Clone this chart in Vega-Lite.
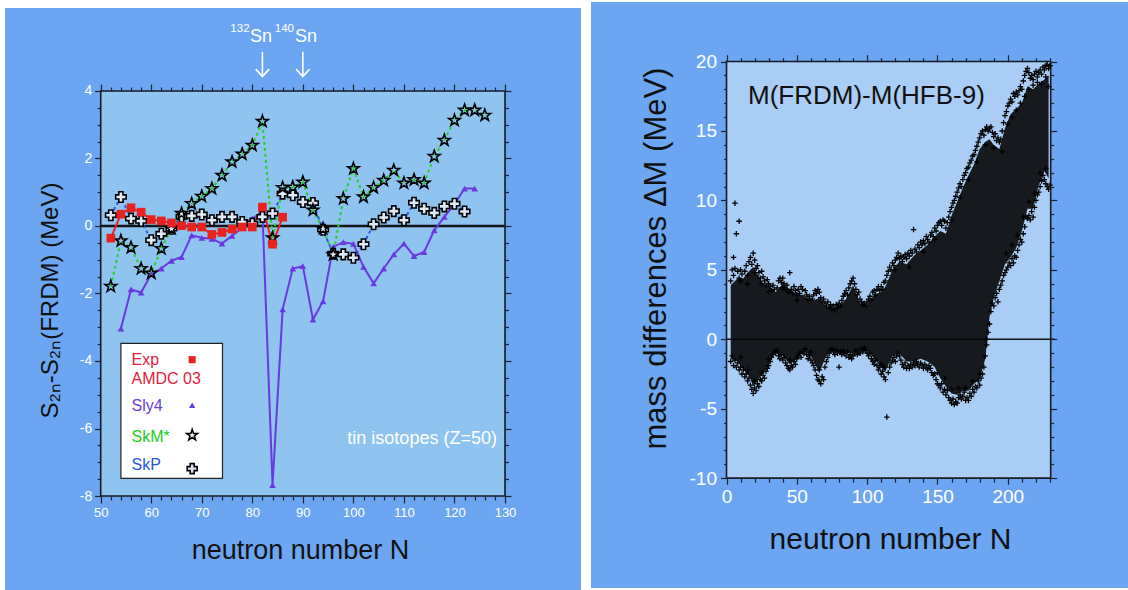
{
"$schema":"https://vega.github.io/schema/vega-lite/v6.json",
"width":1128,"height":590,
"autosize":{"type":"fit","contains":"padding"},
"padding":0,
"background":"#ffffff",
"config":{"font":"Liberation Sans","view":{"stroke":null},
 "axis":{"zindex":1,"domain":false,"grid":false,"labelColor":"#ffffff","tickColor":"#1c2335","tickWidth":1.2,"titleFontWeight":"normal","titleColor":"#111111","labelFontWeight":"normal"}},
"datasets":{
"sn":[
{"N":52,"v":-0.36,"s":"Exp"},{"N":54,"v":0.35,"s":"Exp"},{"N":56,"v":0.54,"s":"Exp"},{"N":58,"v":0.41,"s":"Exp"},{"N":60,"v":0.19,"s":"Exp"},{"N":62,"v":0.15,"s":"Exp"},{"N":64,"v":0.09,"s":"Exp"},{"N":66,"v":0.01,"s":"Exp"},{"N":68,"v":-0.03,"s":"Exp"},{"N":70,"v":-0.03,"s":"Exp"},{"N":72,"v":-0.25,"s":"Exp"},{"N":74,"v":-0.19,"s":"Exp"},{"N":76,"v":-0.09,"s":"Exp"},{"N":78,"v":-0.03,"s":"Exp"},{"N":80,"v":-0.03,"s":"Exp"},{"N":82,"v":0.56,"s":"Exp"},{"N":84,"v":-0.54,"s":"Exp"},{"N":86,"v":0.26,"s":"Exp"},
{"N":54,"v":-3.04,"s":"Sly4"},{"N":56,"v":-1.88,"s":"Sly4"},{"N":58,"v":-1.97,"s":"Sly4"},{"N":60,"v":-1.42,"s":"Sly4"},{"N":62,"v":-1.26,"s":"Sly4"},{"N":64,"v":-1.03,"s":"Sly4"},{"N":66,"v":-0.92,"s":"Sly4"},{"N":68,"v":-0.28,"s":"Sly4"},{"N":70,"v":-0.35,"s":"Sly4"},{"N":72,"v":-0.38,"s":"Sly4"},{"N":74,"v":-0.52,"s":"Sly4"},{"N":76,"v":-0.29,"s":"Sly4"},{"N":78,"v":-0.05,"s":"Sly4"},{"N":80,"v":0.22,"s":"Sly4"},{"N":82,"v":0.42,"s":"Sly4"},{"N":84,"v":-7.68,"s":"Sly4"},{"N":86,"v":-2.47,"s":"Sly4"},{"N":88,"v":-1.26,"s":"Sly4"},{"N":90,"v":-1.19,"s":"Sly4"},{"N":92,"v":-2.77,"s":"Sly4"},{"N":94,"v":-2.23,"s":"Sly4"},{"N":96,"v":-0.62,"s":"Sly4"},{"N":98,"v":-0.48,"s":"Sly4"},{"N":100,"v":-0.53,"s":"Sly4"},{"N":102,"v":-1.21,"s":"Sly4"},{"N":104,"v":-1.7,"s":"Sly4"},{"N":106,"v":-1.26,"s":"Sly4"},{"N":108,"v":-0.84,"s":"Sly4"},{"N":110,"v":-0.52,"s":"Sly4"},{"N":112,"v":-0.89,"s":"Sly4"},{"N":114,"v":-0.77,"s":"Sly4"},{"N":116,"v":-0.13,"s":"Sly4"},{"N":118,"v":0.27,"s":"Sly4"},{"N":120,"v":0.65,"s":"Sly4"},{"N":122,"v":1.11,"s":"Sly4"},{"N":124,"v":1.11,"s":"Sly4"},
{"N":52,"v":-1.79,"s":"SkM*"},{"N":54,"v":-0.44,"s":"SkM*"},{"N":56,"v":-0.64,"s":"SkM*"},{"N":58,"v":-1.26,"s":"SkM*"},{"N":60,"v":-1.4,"s":"SkM*"},{"N":62,"v":-0.67,"s":"SkM*"},{"N":64,"v":-0.08,"s":"SkM*"},{"N":66,"v":0.37,"s":"SkM*"},{"N":68,"v":0.66,"s":"SkM*"},{"N":70,"v":0.88,"s":"SkM*"},{"N":72,"v":1.11,"s":"SkM*"},{"N":74,"v":1.5,"s":"SkM*"},{"N":76,"v":1.9,"s":"SkM*"},{"N":78,"v":2.13,"s":"SkM*"},{"N":80,"v":2.39,"s":"SkM*"},{"N":82,"v":3.1,"s":"SkM*"},{"N":84,"v":-0.35,"s":"SkM*"},{"N":86,"v":1.14,"s":"SkM*"},{"N":88,"v":1.15,"s":"SkM*"},{"N":90,"v":1.3,"s":"SkM*"},{"N":92,"v":0.47,"s":"SkM*"},{"N":94,"v":-0.08,"s":"SkM*"},{"N":96,"v":-0.85,"s":"SkM*"},{"N":98,"v":0.81,"s":"SkM*"},{"N":100,"v":1.7,"s":"SkM*"},{"N":102,"v":0.86,"s":"SkM*"},{"N":104,"v":1.14,"s":"SkM*"},{"N":106,"v":1.35,"s":"SkM*"},{"N":108,"v":1.65,"s":"SkM*"},{"N":110,"v":1.27,"s":"SkM*"},{"N":112,"v":1.37,"s":"SkM*"},{"N":114,"v":1.27,"s":"SkM*"},{"N":116,"v":2.06,"s":"SkM*"},{"N":118,"v":2.54,"s":"SkM*"},{"N":120,"v":3.13,"s":"SkM*"},{"N":122,"v":3.43,"s":"SkM*"},{"N":124,"v":3.43,"s":"SkM*"},{"N":126,"v":3.28,"s":"SkM*"},
{"N":52,"v":0.32,"s":"SkP"},{"N":54,"v":0.86,"s":"SkP"},{"N":56,"v":0.22,"s":"SkP"},{"N":58,"v":0.15,"s":"SkP"},{"N":60,"v":-0.42,"s":"SkP"},{"N":62,"v":-0.23,"s":"SkP"},{"N":64,"v":-0.08,"s":"SkP"},{"N":66,"v":0.27,"s":"SkP"},{"N":68,"v":0.3,"s":"SkP"},{"N":70,"v":0.34,"s":"SkP"},{"N":72,"v":0.17,"s":"SkP"},{"N":74,"v":0.27,"s":"SkP"},{"N":76,"v":0.27,"s":"SkP"},{"N":78,"v":0.12,"s":"SkP"},{"N":80,"v":0.07,"s":"SkP"},{"N":82,"v":0.27,"s":"SkP"},{"N":84,"v":0.37,"s":"SkP"},{"N":86,"v":0.96,"s":"SkP"},{"N":88,"v":0.91,"s":"SkP"},{"N":90,"v":0.71,"s":"SkP"},{"N":92,"v":0.68,"s":"SkP"},{"N":94,"v":-0.11,"s":"SkP"},{"N":96,"v":-0.82,"s":"SkP"},{"N":98,"v":-0.84,"s":"SkP"},{"N":100,"v":-0.94,"s":"SkP"},{"N":102,"v":-0.54,"s":"SkP"},{"N":104,"v":0.05,"s":"SkP"},{"N":106,"v":0.25,"s":"SkP"},{"N":108,"v":0.44,"s":"SkP"},{"N":110,"v":0.17,"s":"SkP"},{"N":112,"v":0.69,"s":"SkP"},{"N":114,"v":0.51,"s":"SkP"},{"N":116,"v":0.39,"s":"SkP"},{"N":118,"v":0.58,"s":"SkP"},{"N":120,"v":0.66,"s":"SkP"},{"N":122,"v":0.43,"s":"SkP"}
],
"env":[
{"n":3,"lo":-1.4,"hi":3.9},{"n":8,"lo":-1.6,"hi":4.4},{"n":12,"lo":-2.2,"hi":4.4},{"n":16,"lo":-2.6,"hi":4.9},{"n":19,"lo":-3.4,"hi":5.2},{"n":22,"lo":-3.0,"hi":4.7},{"n":26,"lo":-2.4,"hi":4.0},{"n":30,"lo":-1.8,"hi":3.8},{"n":35,"lo":-0.9,"hi":3.4},{"n":40,"lo":-1.2,"hi":4.0},{"n":45,"lo":-1.8,"hi":3.6},{"n":50,"lo":-1.4,"hi":3.2},{"n":55,"lo":-0.8,"hi":3.2},{"n":60,"lo":-1.2,"hi":2.7},{"n":66,"lo":-2.4,"hi":3.0},{"n":70,"lo":-1.4,"hi":2.4},{"n":74,"lo":-0.7,"hi":2.2},{"n":80,"lo":-1.0,"hi":2.4},{"n":85,"lo":-1.0,"hi":2.9},{"n":90,"lo":-1.0,"hi":3.9},{"n":95,"lo":-0.8,"hi":2.6},{"n":100,"lo":-0.8,"hi":2.5},{"n":105,"lo":-1.4,"hi":3.2},{"n":110,"lo":-2.0,"hi":3.4},{"n":113,"lo":-2.3,"hi":3.8},{"n":118,"lo":-1.2,"hi":5.0},{"n":123,"lo":-1.0,"hi":5.6},{"n":128,"lo":-1.6,"hi":5.4},{"n":133,"lo":-1.6,"hi":6.0},{"n":138,"lo":-1.4,"hi":6.4},{"n":143,"lo":-1.6,"hi":6.8},{"n":148,"lo":-2.0,"hi":7.4},{"n":152,"lo":-2.8,"hi":7.8},{"n":156,"lo":-3.4,"hi":7.6},{"n":160,"lo":-3.9,"hi":8.9},{"n":164,"lo":-4.0,"hi":9.9},{"n":168,"lo":-3.7,"hi":10.9},{"n":172,"lo":-3.7,"hi":11.8},{"n":176,"lo":-3.2,"hi":12.6},{"n":180,"lo":-2.9,"hi":13.7},{"n":184,"lo":-1.4,"hi":14.2},{"n":187,"lo":1.6,"hi":14.4},{"n":190,"lo":3.0,"hi":14.0},{"n":194,"lo":4.2,"hi":13.7},{"n":198,"lo":5.4,"hi":15.2},{"n":202,"lo":5.9,"hi":16.2},{"n":206,"lo":6.6,"hi":16.6},{"n":210,"lo":7.8,"hi":17.0},{"n":214,"lo":9.4,"hi":18.2},{"n":218,"lo":9.4,"hi":18.0},{"n":222,"lo":11.1,"hi":18.4},{"n":226,"lo":12.1,"hi":18.7},{"n":229,"lo":11.6,"hi":19.0}
],
"pts":[
{"n":6,"m":9.8},{"n":9,"m":8.5},{"n":7,"m":7.6},{"n":5,"m":5.9},{"n":45,"m":4.8},{"n":133,"m":7.9},{"n":114,"m":-5.6},{"n":80,"m":-2.0},{"n":67,"m":-3.2},{"n":69,"m":-2.9},
{"n":3,"m":4.2},{"n":4,"m":5.0},{"n":5,"m":4.6},{"n":6,"m":5.1},{"n":8,"m":4.9},{"n":9,"m":4.4},{"n":10,"m":5.0},{"n":11,"m":4.7},{"n":13,"m":4.9},{"n":14,"m":5.3},{"n":15,"m":4.6},{"n":16,"m":5.6},{"n":17,"m":5.9},{"n":18,"m":5.4},{"n":19,"m":6.2},{"n":20,"m":5.7},{"n":21,"m":5.1},{"n":22,"m":5.3},{"n":23,"m":4.8},{"n":24,"m":4.4},{"n":25,"m":4.9},{"n":26,"m":4.5},{"n":27,"m":4.2},{"n":28,"m":3.9},{"n":29,"m":4.3},{"n":30,"m":4.0},{"n":31,"m":3.8},{"n":32,"m":3.5},{"n":33,"m":3.9},{"n":34,"m":3.6},{"n":36,"m":3.7},{"n":37,"m":4.2},{"n":38,"m":4.4},{"n":39,"m":4.1},{"n":40,"m":4.4},{"n":41,"m":4.0},{"n":42,"m":3.6},{"n":43,"m":3.9},{"n":44,"m":3.4},{"n":46,"m":3.6},{"n":47,"m":3.3},{"n":48,"m":3.8},{"n":49,"m":3.5},{"n":50,"m":3.2},{"n":51,"m":3.6},{"n":52,"m":3.3},{"n":53,"m":3.8},{"n":54,"m":3.6},{"n":56,"m":3.5},{"n":57,"m":3.2},{"n":58,"m":2.9},{"n":59,"m":3.1},{"n":60,"m":2.8},
{"n":3,"m":-1.6},{"n":4,"m":-1.2},{"n":5,"m":-1.9},{"n":6,"m":-1.5},{"n":7,"m":-2.0},{"n":8,"m":-1.7},{"n":9,"m":-2.2},{"n":10,"m":-2.0},{"n":11,"m":-2.5},{"n":12,"m":-2.2},{"n":13,"m":-2.7},{"n":14,"m":-2.5},{"n":15,"m":-3.0},{"n":16,"m":-2.8},{"n":17,"m":-3.3},{"n":18,"m":-3.6},{"n":19,"m":-3.9},{"n":20,"m":-3.5},{"n":21,"m":-3.7},{"n":22,"m":-3.2},{"n":23,"m":-3.4},{"n":24,"m":-2.9},{"n":25,"m":-3.0},{"n":26,"m":-2.6},{"n":27,"m":-2.8},{"n":28,"m":-2.3},{"n":29,"m":-2.1},{"n":30,"m":-1.9},{"n":31,"m":-1.6},{"n":32,"m":-1.3},{"n":33,"m":-1.1},{"n":34,"m":-0.9},{"n":35,"m":-1.0},{"n":36,"m":-0.8},{"n":37,"m":-1.2},{"n":38,"m":-1.4},{"n":39,"m":-1.1},{"n":40,"m":-1.5},{"n":41,"m":-1.3},{"n":42,"m":-1.7},{"n":43,"m":-1.9},{"n":44,"m":-2.1},{"n":45,"m":-2.2},{"n":46,"m":-1.9},{"n":47,"m":-2.0},{"n":48,"m":-1.6},{"n":49,"m":-1.8},{"n":50,"m":-1.4},{"n":51,"m":-1.2},{"n":52,"m":-1.0},{"n":53,"m":-1.3},{"n":54,"m":-0.9},{"n":55,"m":-1.0},{"n":56,"m":-0.7},{"n":57,"m":-1.1},{"n":58,"m":-1.4},{"n":59,"m":-1.2},{"n":60,"m":-1.5},
{"n":61,"m":2.9},{"n":62,"m":3.2},{"n":63,"m":3.5},{"n":64,"m":3.3},{"n":65,"m":3.6},{"n":66,"m":3.4},{"n":67,"m":3.0},{"n":68,"m":2.7},{"n":69,"m":2.9},{"n":70,"m":2.6},{"n":71,"m":2.4},{"n":72,"m":2.7},{"n":73,"m":2.3},{"n":74,"m":2.5},{"n":75,"m":2.2},{"n":76,"m":2.4},{"n":77,"m":2.1},{"n":78,"m":2.5},{"n":79,"m":2.3},{"n":80,"m":2.6},{"n":81,"m":2.4},{"n":82,"m":2.8},{"n":83,"m":3.1},{"n":84,"m":3.3},{"n":85,"m":3.5},{"n":86,"m":3.2},{"n":87,"m":3.7},{"n":88,"m":4.0},{"n":89,"m":4.2},{"n":90,"m":4.4},{"n":91,"m":4.0},{"n":92,"m":3.6},{"n":93,"m":3.2},{"n":94,"m":3.4},{"n":95,"m":2.9},{"n":96,"m":2.7},{"n":97,"m":2.5},{"n":98,"m":2.6},{"n":99,"m":2.4},{"n":100,"m":2.7},
{"n":61,"m":-1.7},{"n":62,"m":-1.9},{"n":63,"m":-2.2},{"n":64,"m":-2.6},{"n":65,"m":-2.9},{"n":66,"m":-3.0},{"n":68,"m":-2.7},{"n":70,"m":-2.0},{"n":71,"m":-1.6},{"n":72,"m":-1.3},{"n":73,"m":-1.0},{"n":74,"m":-0.8},{"n":75,"m":-0.7},{"n":76,"m":-0.9},{"n":77,"m":-1.1},{"n":78,"m":-0.8},{"n":79,"m":-1.0},{"n":81,"m":-0.9},{"n":82,"m":-1.1},{"n":83,"m":-0.8},{"n":84,"m":-1.0},{"n":85,"m":-1.2},{"n":86,"m":-0.9},{"n":87,"m":-1.3},{"n":88,"m":-1.1},{"n":89,"m":-1.4},{"n":90,"m":-1.2},{"n":91,"m":-1.0},{"n":92,"m":-0.8},{"n":93,"m":-1.1},{"n":94,"m":-0.9},{"n":95,"m":-1.0},{"n":96,"m":-0.7},{"n":97,"m":-0.9},{"n":98,"m":-0.6},{"n":99,"m":-0.8},{"n":100,"m":-1.0},
{"n":101,"m":2.9},{"n":102,"m":3.1},{"n":103,"m":2.8},{"n":104,"m":3.4},{"n":105,"m":3.5},{"n":106,"m":3.2},{"n":107,"m":3.6},{"n":108,"m":3.8},{"n":109,"m":3.5},{"n":110,"m":3.8},{"n":111,"m":3.6},{"n":112,"m":4.1},{"n":113,"m":4.2},{"n":114,"m":4.6},{"n":115,"m":4.9},{"n":116,"m":5.2},{"n":117,"m":5.0},{"n":118,"m":5.5},{"n":119,"m":5.3},{"n":120,"m":5.7},{"n":121,"m":5.9},{"n":122,"m":6.2},{"n":123,"m":5.8},{"n":124,"m":6.0},{"n":125,"m":5.6},{"n":126,"m":5.9},{"n":127,"m":6.1},{"n":128,"m":5.8},{"n":129,"m":6.2},{"n":130,"m":6.0},{"n":131,"m":6.4},{"n":132,"m":6.2},{"n":134,"m":6.5},{"n":135,"m":6.3},{"n":136,"m":6.8},{"n":137,"m":6.6},{"n":138,"m":7.0},{"n":139,"m":6.8},{"n":140,"m":7.1},{"n":141,"m":6.9},{"n":142,"m":7.4},{"n":143,"m":7.2},{"n":144,"m":7.0},{"n":145,"m":7.5},{"n":146,"m":7.7},{"n":147,"m":7.4},{"n":148,"m":8.0},{"n":149,"m":7.8},{"n":150,"m":8.2},
{"n":101,"m":-1.2},{"n":102,"m":-1.0},{"n":103,"m":-1.4},{"n":104,"m":-1.6},{"n":105,"m":-1.8},{"n":106,"m":-1.5},{"n":107,"m":-1.9},{"n":108,"m":-2.2},{"n":109,"m":-2.0},{"n":110,"m":-2.5},{"n":111,"m":-2.3},{"n":112,"m":-2.7},{"n":113,"m":-2.9},{"n":115,"m":-2.4},{"n":116,"m":-2.0},{"n":117,"m":-1.7},{"n":118,"m":-1.5},{"n":119,"m":-1.3},{"n":120,"m":-1.6},{"n":121,"m":-1.2},{"n":122,"m":-1.0},{"n":123,"m":-1.2},{"n":124,"m":-1.5},{"n":125,"m":-1.8},{"n":126,"m":-2.0},{"n":127,"m":-1.7},{"n":128,"m":-2.1},{"n":129,"m":-1.9},{"n":130,"m":-2.1},{"n":131,"m":-1.8},{"n":132,"m":-2.0},{"n":133,"m":-1.7},{"n":134,"m":-1.9},{"n":135,"m":-1.6},{"n":136,"m":-1.8},{"n":137,"m":-2.0},{"n":138,"m":-1.7},{"n":139,"m":-1.9},{"n":140,"m":-2.1},{"n":141,"m":-1.8},{"n":142,"m":-2.0},{"n":143,"m":-2.2},{"n":144,"m":-1.9},{"n":145,"m":-2.1},{"n":146,"m":-2.4},{"n":147,"m":-2.6},{"n":148,"m":-2.5},{"n":149,"m":-2.9},{"n":150,"m":-3.2},
{"n":151,"m":8.4},{"n":152,"m":8.5},{"n":153,"m":8.2},{"n":154,"m":8.6},{"n":155,"m":8.5},{"n":156,"m":8.0},{"n":157,"m":8.4},{"n":158,"m":8.8},{"n":159,"m":9.2},{"n":160,"m":9.5},{"n":161,"m":9.8},{"n":162,"m":10.0},{"n":163,"m":10.3},{"n":164,"m":10.6},{"n":165,"m":10.9},{"n":166,"m":11.2},{"n":167,"m":11.0},{"n":168,"m":11.5},{"n":169,"m":11.8},{"n":170,"m":12.0},{"n":171,"m":12.3},{"n":172,"m":12.4},{"n":173,"m":12.7},{"n":174,"m":12.9},{"n":175,"m":13.2},{"n":176,"m":13.3},{"n":177,"m":13.6},{"n":178,"m":13.9},{"n":179,"m":14.2},{"n":180,"m":14.5},{"n":181,"m":14.8},{"n":182,"m":15.0},{"n":183,"m":14.7},{"n":184,"m":15.1},{"n":185,"m":15.3},{"n":186,"m":15.0},
{"n":151,"m":-3.3},{"n":152,"m":-3.5},{"n":153,"m":-3.2},{"n":154,"m":-3.8},{"n":155,"m":-3.6},{"n":156,"m":-4.0},{"n":157,"m":-3.7},{"n":158,"m":-4.2},{"n":159,"m":-4.4},{"n":160,"m":-4.6},{"n":161,"m":-4.3},{"n":162,"m":-4.7},{"n":163,"m":-4.5},{"n":164,"m":-4.6},{"n":165,"m":-4.2},{"n":166,"m":-4.0},{"n":167,"m":-4.3},{"n":168,"m":-4.1},{"n":169,"m":-3.8},{"n":170,"m":-4.4},{"n":171,"m":-4.2},{"n":172,"m":-4.4},{"n":173,"m":-3.9},{"n":174,"m":-4.1},{"n":175,"m":-3.6},{"n":176,"m":-3.8},{"n":177,"m":-3.4},{"n":178,"m":-3.5},{"n":179,"m":-3.0},{"n":180,"m":-3.3},{"n":181,"m":-2.8},{"n":182,"m":-2.5},{"n":183,"m":-2.0},{"n":184,"m":-1.2},{"n":185,"m":-0.4},{"n":186,"m":0.5},
{"n":187,"m":15.2},{"n":188,"m":15.3},{"n":189,"m":14.9},{"n":190,"m":14.6},{"n":191,"m":14.8},{"n":192,"m":14.3},{"n":193,"m":14.5},{"n":194,"m":14.2},{"n":195,"m":14.4},{"n":196,"m":15.0},{"n":197,"m":15.6},{"n":198,"m":16.1},{"n":199,"m":16.4},{"n":200,"m":16.8},{"n":201,"m":17.0},{"n":202,"m":17.3},{"n":203,"m":17.1},{"n":204,"m":17.7},{"n":205,"m":17.5},{"n":206,"m":17.8},{"n":207,"m":17.6},{"n":208,"m":17.9},{"n":209,"m":18.2},{"n":210,"m":18.0},{"n":211,"m":18.6},{"n":212,"m":19.0},{"n":213,"m":19.3},{"n":214,"m":19.5},{"n":215,"m":19.2},{"n":216,"m":18.8},{"n":217,"m":19.0},{"n":218,"m":18.7},{"n":219,"m":19.1},{"n":220,"m":19.3},{"n":221,"m":18.9},{"n":222,"m":19.2},{"n":223,"m":19.4},{"n":224,"m":19.1},{"n":225,"m":19.6},{"n":226,"m":19.4},{"n":227,"m":19.7},{"n":228,"m":19.8},{"n":229,"m":19.5},{"n":230,"m":19.7},
{"n":187,"m":1.1},{"n":188,"m":2.0},{"n":189,"m":2.6},{"n":190,"m":2.4},{"n":191,"m":3.0},{"n":192,"m":3.3},{"n":193,"m":2.7},{"n":194,"m":3.6},{"n":195,"m":3.9},{"n":196,"m":4.2},{"n":197,"m":4.6},{"n":198,"m":4.8},{"n":199,"m":5.0},{"n":200,"m":5.2},{"n":201,"m":5.5},{"n":202,"m":5.3},{"n":203,"m":5.8},{"n":204,"m":5.5},{"n":205,"m":6.0},{"n":206,"m":5.9},{"n":207,"m":6.4},{"n":208,"m":6.8},{"n":209,"m":7.2},{"n":210,"m":7.0},{"n":211,"m":7.6},{"n":212,"m":8.1},{"n":213,"m":8.8},{"n":214,"m":8.7},{"n":215,"m":8.9},{"n":216,"m":8.6},{"n":217,"m":9.2},{"n":218,"m":8.8},{"n":219,"m":9.5},{"n":220,"m":10.0},{"n":221,"m":10.4},{"n":222,"m":10.6},{"n":223,"m":11.0},{"n":224,"m":11.4},{"n":225,"m":11.8},{"n":226,"m":11.5},{"n":227,"m":11.2},{"n":228,"m":11.0},{"n":229,"m":10.8},{"n":230,"m":11.1},
{"n":200,"m":15.5},{"n":203,"m":16.0},{"n":206,"m":16.5},{"n":209,"m":17.0},{"n":212,"m":17.5},{"n":215,"m":18.0},{"n":218,"m":18.3},{"n":221,"m":18.5},{"n":224,"m":18.4},{"n":227,"m":18.9},{"n":229,"m":18.2},{"n":199,"m":6.2},{"n":203,"m":6.8},{"n":207,"m":7.5},{"n":211,"m":8.8},{"n":215,"m":9.9},{"n":219,"m":10.5},{"n":223,"m":12.0},{"n":227,"m":12.3},
{"n":160,"m":8.6},{"n":166,"m":10.2},{"n":172,"m":11.5},{"n":178,"m":12.8},{"n":184,"m":14.0},{"n":190,"m":13.8},{"n":196,"m":13.5},{"n":155,"m":-2.8},{"n":160,"m":-3.6},{"n":165,"m":-3.5},{"n":170,"m":-3.5},{"n":175,"m":-3.0},{"n":180,"m":-2.5},{"n":185,"m":0.0},
{"n":10,"m":4.2},{"n":15,"m":4.0},{"n":20,"m":4.8},{"n":25,"m":4.0},{"n":30,"m":3.4},{"n":40,"m":3.7},{"n":50,"m":2.8},{"n":10,"m":-1.3},{"n":15,"m":-2.2},{"n":20,"m":-3.0},{"n":25,"m":-2.4},{"n":30,"m":-1.4},{"n":45,"m":-1.5},{"n":60,"m":-0.9},{"n":66,"m":-2.2},{"n":110,"m":-1.8},{"n":120,"m":5.0},{"n":130,"m":5.2},{"n":140,"m":6.3},{"n":148,"m":7.2},{"n":150,"m":-2.4},{"n":112,"m":-2.0}
]
},
"resolve":{"scale":{"x":"independent","y":"independent"},"axis":{"x":"independent","y":"independent"}},
"layer":[
{
"layer":[
 {"data":{"values":[{}]},"mark":{"type":"rect","fill":"#6ca6f2"},
  "encoding":{"x":{"datum":31.064,"type":"quantitative","scale":{"domain":[30.075,253.27],"nice":false,"zero":false}},"x2":{"datum":145.03},"y":{"datum":-10.785,"type":"quantitative","scale":{"domain":[-10.785,6.696],"nice":false,"zero":false}},"y2":{"datum":6.459}}},
 {"data":{"values":[{}]},"mark":{"type":"rect","fill":"#8fc3f0","stroke":"#161a22","strokeWidth":1.6},
  "encoding":{"x":{"datum":50,"type":"quantitative"},"x2":{"datum":130},"y":{"datum":-8,"type":"quantitative"},"y2":{"datum":4}}},
 {"data":{"values":[{}]},"mark":{"type":"rule","color":"#151515","strokeWidth":2.5},
  "encoding":{"x":{"datum":50,"type":"quantitative"},"x2":{"datum":130},"y":{"datum":0,"type":"quantitative"}}},
 {"data":{"name":"sn"},"transform":[{"filter":"datum.s === 'Exp' || datum.s === 'Sly4'"}],"mark":{"type":"line","strokeWidth":2},
  "encoding":{
   "x":{"field":"N","type":"quantitative","scale":{"domain":[30.075,253.27],"nice":false,"zero":false},
        "axis":{"zindex":1,"orient":"bottom","offset":-94,"values":[50,60,70,80,90,100,110,120,130],"labelFontSize":13,"labelPadding":3,"tickSize":7,"title":"neutron number N","titleFontSize":27,"titleX":300,"titleY":62,"titleBaseline":"alphabetic","titleAlign":"center"}},
   "y":{"field":"v","type":"quantitative","scale":{"domain":[-10.785,6.696],"nice":false,"zero":false},
        "axis":{"zindex":1,"orient":"left","offset":-100.7,"values":[-8,-6,-4,-2,0,2,4],"labelExpr":"'' + datum.value","labelFontSize":14,"labelPadding":3,"tickSize":6,"title":"S₂ₙ-S₂ₙ(FRDM) (MeV)","titleFontSize":24,"titleX":-49.7,"titleY":300,"titleAngle":-90,"titleAlign":"center","titleBaseline":"middle"}},
   "color":{"field":"s","type":"nominal","scale":{"domain":["Exp","Sly4","SkM*","SkP"],"range":["#e8231f","#6a3ae0","#22d422","#2a56e6"]},"legend":null}
  }},
 {"data":{"name":"sn"},"transform":[{"filter":"datum.s === 'SkM*' || datum.s === 'SkP'"}],"mark":{"type":"line","strokeWidth":2,"strokeDash":[3,3]},
  "encoding":{"x":{"field":"N","type":"quantitative"},"y":{"field":"v","type":"quantitative"},
   "color":{"field":"s","type":"nominal","scale":{"domain":["Exp","Sly4","SkM*","SkP"],"range":["#e8231f","#6a3ae0","#22d422","#2a56e6"]},"legend":null}}},
 {"data":{"name":"sn"},"transform":[{"filter":"datum.s === 'Sly4'"}],"mark":{"type":"point","shape":"triangle-up","filled":true,"color":"#6a3ae0","size":45,"opacity":1},
  "encoding":{"x":{"field":"N","type":"quantitative"},"y":{"field":"v","type":"quantitative"}}},
 {"data":{"name":"sn"},"transform":[{"filter":"datum.s === 'SkP'"}],"mark":{"type":"point","shape":"cross","filled":true,"fill":"#dfeaf6","stroke":"#000000","strokeWidth":1.6,"size":110,"opacity":1},
  "encoding":{"x":{"field":"N","type":"quantitative"},"y":{"field":"v","type":"quantitative"}}},
 {"data":{"name":"sn"},"transform":[{"filter":"datum.s === 'SkM*'"}],"mark":{"type":"point","shape":"M0,-1L0.235,-0.324L0.951,-0.309L0.38,0.124L0.588,0.809L0,0.4L-0.588,0.809L-0.38,0.124L-0.951,-0.309L-0.235,-0.324Z","filled":false,"color":"#000000","strokeWidth":1.6,"size":150,"opacity":1},
  "encoding":{"x":{"field":"N","type":"quantitative"},"y":{"field":"v","type":"quantitative"}}},
 {"data":{"name":"sn"},"transform":[{"filter":"datum.s === 'Exp'"}],"mark":{"type":"point","shape":"square","filled":true,"color":"#e8231f","size":75,"opacity":1},
  "encoding":{"x":{"field":"N","type":"quantitative"},"y":{"field":"v","type":"quantitative"}}},
 {"data":{"values":[{}]},"mark":{"type":"rect","fill":"#ffffff","stroke":"#222222","strokeWidth":1.2},
  "encoding":{"x":{"datum":54,"type":"quantitative"},"x2":{"datum":74.1},"y":{"datum":-3.48,"type":"quantitative"},"y2":{"datum":-7.48}}},
 {"data":{"values":[{}]},"mark":{"type":"text","text":"Exp","align":"left","baseline":"middle","fontSize":16,"color":"#e2203a"},
  "encoding":{"x":{"datum":56.1,"type":"quantitative"},"y":{"datum":-3.96,"type":"quantitative"}}},
 {"data":{"values":[{}]},"mark":{"type":"text","text":"AMDC 03","align":"left","baseline":"middle","fontSize":16,"color":"#e2203a"},
  "encoding":{"x":{"datum":56.1,"type":"quantitative"},"y":{"datum":-4.54,"type":"quantitative"}}},
 {"data":{"values":[{}]},"mark":{"type":"text","text":"Sly4","align":"left","baseline":"middle","fontSize":16,"color":"#6a3ae0"},
  "encoding":{"x":{"datum":56.1,"type":"quantitative"},"y":{"datum":-5.34,"type":"quantitative"}}},
 {"data":{"values":[{}]},"mark":{"type":"text","text":"SkM*","align":"left","baseline":"middle","fontSize":16,"color":"#22cc22"},
  "encoding":{"x":{"datum":56.1,"type":"quantitative"},"y":{"datum":-6.25,"type":"quantitative"}}},
 {"data":{"values":[{}]},"mark":{"type":"text","text":"SkP","align":"left","baseline":"middle","fontSize":16,"color":"#2a56e6"},
  "encoding":{"x":{"datum":56.1,"type":"quantitative"},"y":{"datum":-7.09,"type":"quantitative"}}},
 {"data":{"values":[{}]},"mark":{"type":"point","shape":"square","filled":true,"color":"#e8231f","size":50,"opacity":1},
  "encoding":{"x":{"datum":68.1,"type":"quantitative"},"y":{"datum":-3.96,"type":"quantitative"}}},
 {"data":{"values":[{}]},"mark":{"type":"point","shape":"triangle-up","filled":true,"color":"#6a3ae0","size":40,"opacity":1},
  "encoding":{"x":{"datum":68.1,"type":"quantitative"},"y":{"datum":-5.31,"type":"quantitative"}}},
 {"data":{"values":[{}]},"mark":{"type":"point","shape":"M0,-1L0.235,-0.324L0.951,-0.309L0.38,0.124L0.588,0.809L0,0.4L-0.588,0.809L-0.38,0.124L-0.951,-0.309L-0.235,-0.324Z","filled":false,"color":"#000000","strokeWidth":1.6,"size":130,"opacity":1},
  "encoding":{"x":{"datum":68.1,"type":"quantitative"},"y":{"datum":-6.2,"type":"quantitative"}}},
 {"data":{"values":[{}]},"mark":{"type":"point","shape":"cross","filled":true,"fill":"#dfeaf6","stroke":"#000000","strokeWidth":1.6,"size":100,"opacity":1},
  "encoding":{"x":{"datum":68.1,"type":"quantitative"},"y":{"datum":-7.19,"type":"quantitative"}}},
 {"data":{"values":[{}]},"mark":{"type":"text","text":"tin isotopes (Z=50)","align":"right","baseline":"middle","fontSize":18,"color":"#ffffff"},
  "encoding":{"x":{"datum":128.4,"type":"quantitative"},"y":{"datum":-6.3,"type":"quantitative"}}},
 {"data":{"values":[{}]},"mark":{"type":"text","text":"132","align":"right","baseline":"alphabetic","fontSize":11.5,"color":"#ffffff"},
  "encoding":{"x":{"datum":79.45,"type":"quantitative"},"y":{"datum":5.748,"type":"quantitative"}}},
 {"data":{"values":[{}]},"mark":{"type":"text","text":"Sn","align":"left","baseline":"alphabetic","fontSize":18,"color":"#ffffff"},
  "encoding":{"x":{"datum":79.54,"type":"quantitative"},"y":{"datum":5.452,"type":"quantitative"}}},
 {"data":{"values":[{}]},"mark":{"type":"text","text":"140","align":"right","baseline":"alphabetic","fontSize":11.5,"color":"#ffffff"},
  "encoding":{"x":{"datum":88.25,"type":"quantitative"},"y":{"datum":5.748,"type":"quantitative"}}},
 {"data":{"values":[{}]},"mark":{"type":"text","text":"Sn","align":"left","baseline":"alphabetic","fontSize":18,"color":"#ffffff"},
  "encoding":{"x":{"datum":88.45,"type":"quantitative"},"y":{"datum":5.452,"type":"quantitative"}}},
 {"data":{"values":[{}]},"mark":{"type":"rule","color":"#ffffff","strokeWidth":1.6},
  "encoding":{"x":{"datum":82,"type":"quantitative"},"y":{"datum":4.43,"type":"quantitative"},"y2":{"datum":5.16}}},
 {"data":{"values":[{}]},"mark":{"type":"rule","color":"#ffffff","strokeWidth":1.6},
  "encoding":{"x":{"datum":90,"type":"quantitative"},"y":{"datum":4.43,"type":"quantitative"},"y2":{"datum":5.16}}},
 {"data":{"values":[{}]},"mark":{"type":"point","shape":"M-1,-1.1L0,0L1,-1.1","filled":false,"color":"#ffffff","strokeWidth":1.6,"size":180,"opacity":1},
  "encoding":{"x":{"datum":82,"type":"quantitative"},"y":{"datum":4.43,"type":"quantitative"}}},
 {"data":{"values":[{}]},"mark":{"type":"point","shape":"M-1,-1.1L0,0L1,-1.1","filled":false,"color":"#ffffff","strokeWidth":1.6,"size":180,"opacity":1},
  "encoding":{"x":{"datum":90,"type":"quantitative"},"y":{"datum":4.43,"type":"quantitative"}}}
]
},
{
"layer":[
 {"data":{"values":[{}]},"mark":{"type":"rect","fill":"#6ca6f2"},
  "encoding":{"x":{"datum":-96.34,"type":"quantitative","scale":{"domain":[-516.53,285.46],"nice":false,"zero":false}},"x2":{"datum":285.46},"y":{"datum":-17.909,"type":"quantitative","scale":{"domain":[-18.053,24.433],"nice":false,"zero":false}},"y2":{"datum":24.289}}},
 {"data":{"values":[{}]},"mark":{"type":"rect","fill":"#a9cdf4","stroke":"#161a22","strokeWidth":1.6},
  "encoding":{"x":{"datum":0,"type":"quantitative"},"x2":{"datum":230.5},"y":{"datum":-10,"type":"quantitative"},"y2":{"datum":20}}},
 {"data":{"values":[{}]},"mark":{"type":"rule","color":"#151515","strokeWidth":1.5},
  "encoding":{"x":{"datum":0,"type":"quantitative"},"x2":{"datum":233},"y":{"datum":0,"type":"quantitative"}}},
 {"data":{"name":"env"},"mark":{"type":"area","color":"#050505","opacity":0.9},
  "encoding":{
   "x":{"field":"n","type":"quantitative","scale":{"domain":[-516.53,285.46],"nice":false,"zero":false},
        "axis":{"zindex":1,"orient":"bottom","offset":-111.7,"values":[0,50,100,150,200],"labelFontSize":19,"labelPadding":3,"tickSize":6,"title":"neutron number N","titleFontSize":30,"titleX":890,"titleY":69.7,"titleBaseline":"alphabetic","titleAlign":"center"}},
   "y":{"field":"lo","type":"quantitative","scale":{"domain":[-18.053,24.433],"nice":false,"zero":false},
        "axis":{"zindex":1,"orient":"left","offset":-726.5,"values":[-10,-5,0,5,10,15,20],"labelExpr":"'' + datum.value","labelFontSize":19,"labelPadding":4,"tickSize":6,"title":"mass differences ΔM (MeV)","titleFontSize":31,"titleX":-70.5,"titleY":258,"titleAngle":-90,"titleAlign":"center","titleBaseline":"middle"}},
   "y2":{"field":"hi"}
  }},
 {"data":{"name":"pts"},"mark":{"type":"point","shape":"M-1,0L1,0M0,-1L0,1","filled":false,"color":"#000000","strokeWidth":1.3,"size":30,"opacity":1},
  "encoding":{"x":{"field":"n","type":"quantitative"},"y":{"field":"m","type":"quantitative"}}},
 {"data":{"values":[{}]},"mark":{"type":"text","text":"M(FRDM)-M(HFB-9)","align":"left","baseline":"alphabetic","fontSize":26,"color":"#111111"},
  "encoding":{"x":{"datum":15.3,"type":"quantitative"},"y":{"datum":16.94,"type":"quantitative"}}}
]
},
{"data":{"values":[{}]},"mark":{"type":"rect","opacity":0},
 "encoding":{
  "x":{"datum":50,"type":"quantitative","scale":{"domain":[30.075,253.27],"nice":false,"zero":false},
       "axis":{"zindex":1,"orient":"bottom","offset":-94,"values":[52,54,56,58,62,64,66,68,72,74,76,78,82,84,86,88,92,94,96,98,102,104,106,108,112,114,116,118,122,124,126,128],"labels":false,"title":null,"tickSize":4}},
  "x2":{"datum":130},
  "y":{"datum":-8,"type":"quantitative","scale":{"domain":[-10.785,6.696],"nice":false,"zero":false},
       "axis":{"zindex":1,"orient":"left","offset":-100.7,"values":[-7.5,-7,-6.5,-5.5,-5,-4.5,-3.5,-3,-2.5,-1.5,-1,-0.5,0.5,1,1.5,2.5,3,3.5],"labels":false,"title":null,"tickSize":3.5}},
  "y2":{"datum":4}}},
{"data":{"values":[{}]},"mark":{"type":"rect","opacity":0},
 "encoding":{
  "x":{"datum":50,"type":"quantitative","scale":{"domain":[30.075,253.27],"nice":false,"zero":false},
       "axis":{"zindex":1,"orient":"top","offset":-91,"values":[50,60,70,80,90,100,110,120,130],"labels":false,"title":null,"tickSize":7}},
  "x2":{"datum":130},
  "y":{"datum":-8,"type":"quantitative","scale":{"domain":[-10.785,6.696],"nice":false,"zero":false},
       "axis":{"zindex":1,"orient":"right","offset":-623,"values":[-8,-6,-4,-2,0,2,4],"labels":false,"title":null,"tickSize":6}},
  "y2":{"datum":4}}},
{"data":{"values":[{}]},"mark":{"type":"rect","opacity":0},
 "encoding":{
  "x":{"datum":50,"type":"quantitative","scale":{"domain":[30.075,253.27],"nice":false,"zero":false},
       "axis":{"zindex":1,"orient":"top","offset":-91,"values":[52,54,56,58,62,64,66,68,72,74,76,78,82,84,86,88,92,94,96,98,102,104,106,108,112,114,116,118,122,124,126,128],"labels":false,"title":null,"tickSize":4}},
  "x2":{"datum":130},
  "y":{"datum":-8,"type":"quantitative","scale":{"domain":[-10.785,6.696],"nice":false,"zero":false},
       "axis":{"zindex":1,"orient":"right","offset":-623,"values":[-7.5,-7,-6.5,-5.5,-5,-4.5,-3.5,-3,-2.5,-1.5,-1,-0.5,0.5,1,1.5,2.5,3,3.5],"labels":false,"title":null,"tickSize":3.5}},
  "y2":{"datum":4}}},
{"data":{"values":[{}]},"mark":{"type":"rect","opacity":0},
 "encoding":{
  "x":{"datum":0,"type":"quantitative","scale":{"domain":[-516.53,285.46],"nice":false,"zero":false},
       "axis":{"zindex":1,"orient":"bottom","offset":-111.7,"values":[10,20,30,40,60,70,80,90,110,120,130,140,160,170,180,190,210,220,230],"labels":false,"title":null,"tickSize":4}},
  "x2":{"datum":230.5},
  "y":{"datum":-10,"type":"quantitative","scale":{"domain":[-18.053,24.433],"nice":false,"zero":false},
       "axis":{"zindex":1,"orient":"left","offset":-726.5,"values":[-9,-8,-7,-6,-4,-3,-2,-1,1,2,3,4,6,7,8,9,11,12,13,14,16,17,18,19],"labels":false,"title":null,"tickSize":3}},
  "y2":{"datum":20}}},
{"data":{"values":[{}]},"mark":{"type":"rect","opacity":0},
 "encoding":{
  "x":{"datum":0,"type":"quantitative","scale":{"domain":[-516.53,285.46],"nice":false,"zero":false},
       "axis":{"zindex":1,"orient":"top","offset":-61.7,"values":[0,50,100,150,200],"labels":false,"title":null,"tickSize":7}},
  "x2":{"datum":230.5},
  "y":{"datum":-10,"type":"quantitative","scale":{"domain":[-18.053,24.433],"nice":false,"zero":false},
       "axis":{"zindex":1,"orient":"right","offset":-77.3,"values":[-10,-5,0,5,10,15,20],"labels":false,"title":null,"tickSize":6}},
  "y2":{"datum":20}}},
{"data":{"values":[{}]},"mark":{"type":"rect","opacity":0},
 "encoding":{
  "x":{"datum":0,"type":"quantitative","scale":{"domain":[-516.53,285.46],"nice":false,"zero":false},
       "axis":{"zindex":1,"orient":"top","offset":-61.7,"values":[10,20,30,40,60,70,80,90,110,120,130,140,160,170,180,190,210,220,230],"labels":false,"title":null,"tickSize":4}},
  "x2":{"datum":230.5},
  "y":{"datum":-10,"type":"quantitative","scale":{"domain":[-18.053,24.433],"nice":false,"zero":false},
       "axis":{"zindex":1,"orient":"right","offset":-77.3,"values":[-9,-8,-7,-6,-4,-3,-2,-1,1,2,3,4,6,7,8,9,11,12,13,14,16,17,18,19],"labels":false,"title":null,"tickSize":3}},
  "y2":{"datum":20}}}
]
}
